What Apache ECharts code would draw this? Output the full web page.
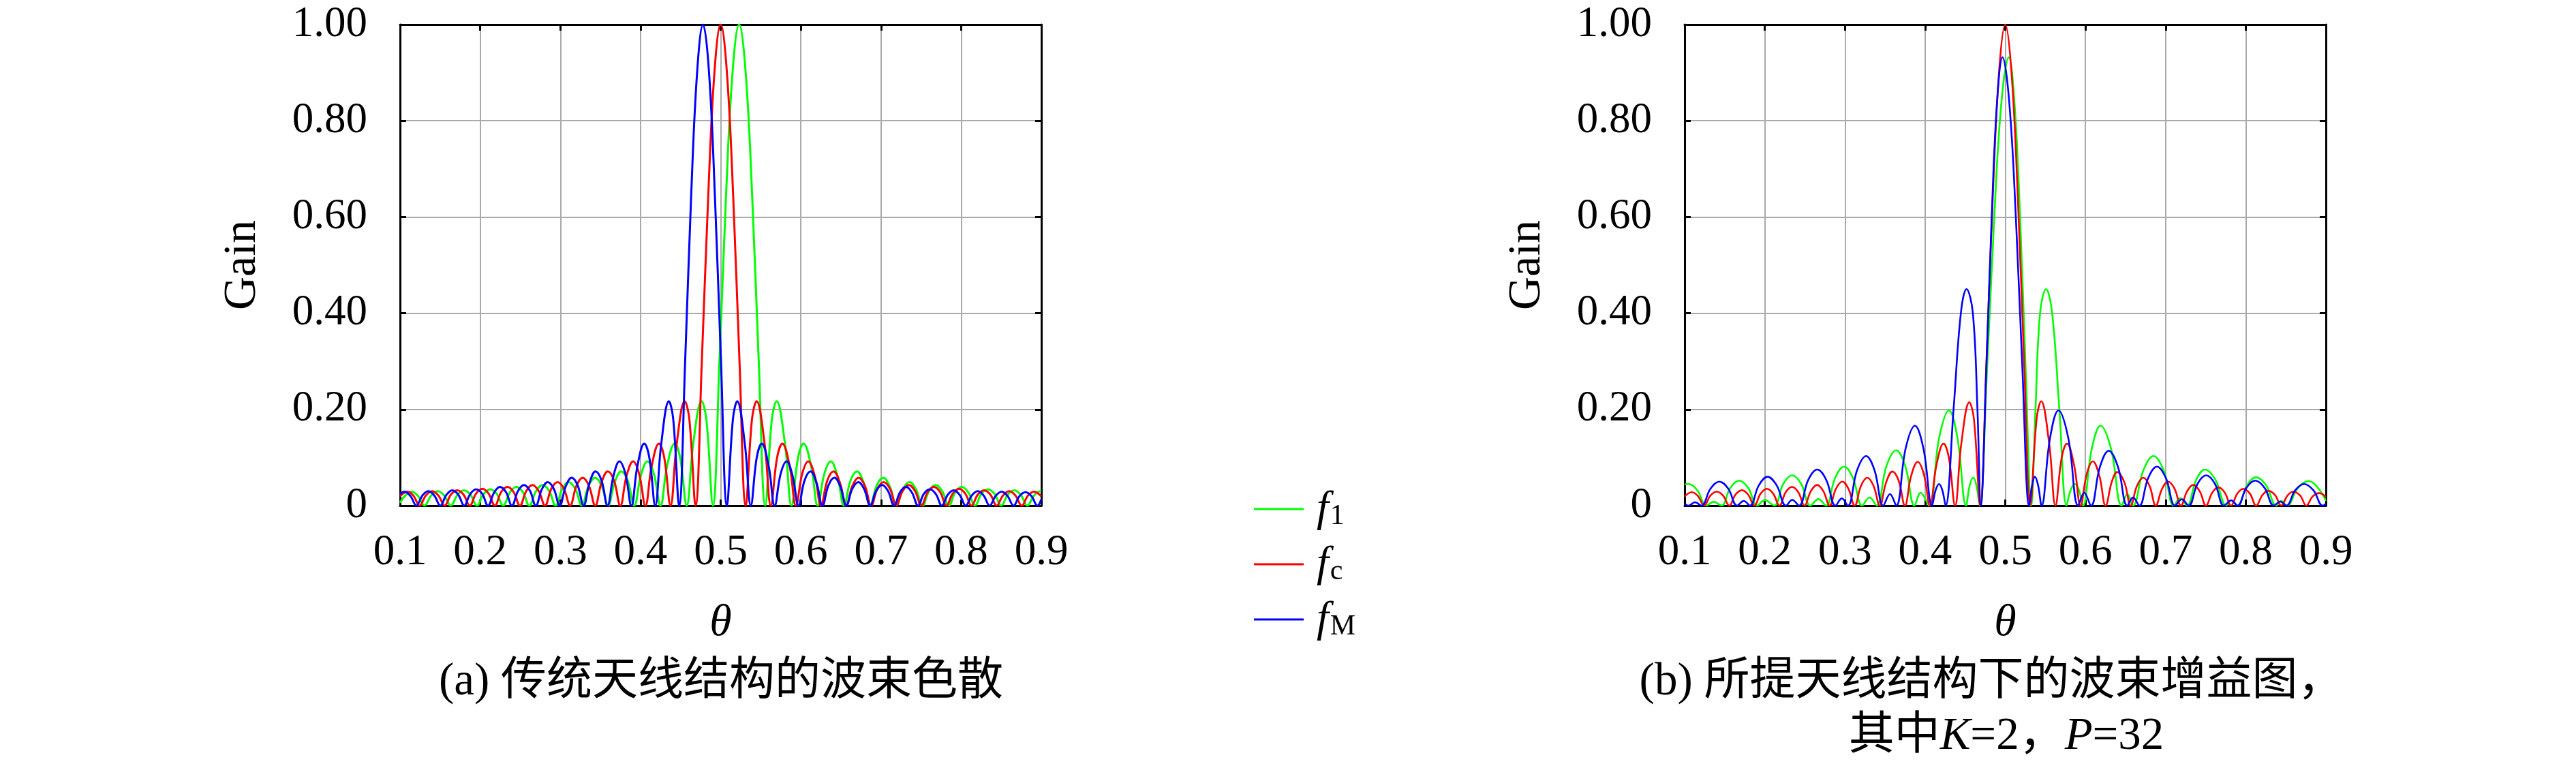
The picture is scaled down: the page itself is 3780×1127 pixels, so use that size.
<!DOCTYPE html>
<html><head><meta charset="utf-8">
<script src="https://cdn.jsdelivr.net/npm/echarts@6/dist/echarts.min.js"></script>
<style>html,body{margin:0;padding:0;background:#fff}#c{width:3780px;height:1127px}</style>
</head><body><div id="c"></div>
<script>
// ---------------- data ----------------
const seriesNames = ['f1', 'fc', 'fM'];
const seriesSubs = ['1', 'c', 'M'];
const seriesColors = ['#00ff00', '#ff0000', '#0000ff'];
const thetaTickLabels = ['0.1','0.2','0.3','0.4','0.5','0.6','0.7','0.8','0.9'];
const gainTickLabels = ['0','0.20','0.40','0.60','0.80','1.00'];
const axisNameX = 'θ';
const axisNameY = 'Gain';
const captionA = '(a) 传统天线结构的波束色散';
const captionB1 = '(b) 所提天线结构下的波束增益图，';
const captionB2 = '其中{i|K}=2，{i|P}=32';

// (a) conventional antenna: [theta, gain]
const a_f1 = [[0.1,0.006],[0.1061,0.020],[0.1143,0.029],[0.1224,0.020],[0.1306,0],[0.1388,0.021],[0.147,0.030],[0.1551,0.021],[0.1633,0],[0.1715,0.022],[0.1797,0.032],[0.1878,0.023],[0.196,0],[0.2042,0.024],[0.2124,0.034],[0.2205,0.025],[0.2287,0],[0.2369,0.027],[0.2451,0.039],[0.2532,0.028],[0.2614,0],[0.2696,0.030],[0.2778,0.043],[0.2859,0.031],[0.2941,0],[0.3023,0.034],[0.3105,0.049],[0.3186,0.035],[0.3268,0],[0.335,0.040],[0.3432,0.058],[0.3513,0.042],[0.3595,0],[0.3677,0.048],[0.3759,0.071],[0.384,0.052],[0.3922,0],[0.4004,0.062],[0.4086,0.092],[0.4167,0.066],[0.4249,0],[0.4331,0.082],[0.4426,0.129],[0.4494,0.10],[0.4576,0],[0.4658,0.129],[0.4762,0.217],[0.4821,0.18],[0.4903,0],[0.4985,0.30],[0.5066,0.64],[0.5148,0.90],[0.523,1.0],[0.5312,0.90],[0.5394,0.64],[0.5475,0.30],[0.5557,0],[0.5639,0.18],[0.5698,0.217],[0.5802,0.129],[0.5884,0],[0.5966,0.10],[0.6034,0.129],[0.6129,0.082],[0.6211,0],[0.6293,0.066],[0.6374,0.092],[0.6456,0.062],[0.6538,0],[0.662,0.052],[0.6701,0.071],[0.6783,0.048],[0.6865,0],[0.6947,0.042],[0.7028,0.058],[0.711,0.040],[0.7192,0],[0.7274,0.035],[0.7355,0.049],[0.7437,0.034],[0.7519,0],[0.7601,0.031],[0.7682,0.043],[0.7764,0.030],[0.7846,0],[0.7928,0.028],[0.8009,0.039],[0.8091,0.027],[0.8173,0],[0.8255,0.025],[0.8336,0.034],[0.8418,0.024],[0.85,0],[0.8582,0.023],[0.8663,0.032],[0.8745,0.022],[0.8827,0],[0.8909,0.021],[0.899,0.030],[0.9,0.030]];
const a_fc = [[0.1,0.019],[0.1088,0.029],[0.1166,0.021],[0.1244,0],[0.1322,0.021],[0.1401,0.030],[0.1479,0.021],[0.1557,0],[0.1635,0.023],[0.1714,0.032],[0.1792,0.023],[0.187,0],[0.1948,0.025],[0.2027,0.035],[0.2105,0.025],[0.2183,0],[0.2261,0.028],[0.234,0.039],[0.2418,0.028],[0.2496,0],[0.2574,0.030],[0.2653,0.043],[0.2731,0.030],[0.2809,0],[0.2887,0.035],[0.2966,0.049],[0.3044,0.035],[0.3122,0],[0.32,0.041],[0.3279,0.058],[0.3357,0.041],[0.3435,0],[0.3513,0.048],[0.3592,0.071],[0.367,0.052],[0.3748,0],[0.3826,0.062],[0.3908,0.092],[0.3983,0.066],[0.4061,0],[0.4139,0.082],[0.423,0.129],[0.4296,0.10],[0.4374,0],[0.4452,0.129],[0.4552,0.217],[0.4609,0.18],[0.4687,0],[0.4765,0.30],[0.4844,0.64],[0.4922,0.90],[0.5,1.0],[0.5078,0.90],[0.5157,0.64],[0.5235,0.30],[0.5313,0],[0.5391,0.18],[0.5448,0.217],[0.5548,0.129],[0.5626,0],[0.5704,0.10],[0.577,0.129],[0.5861,0.082],[0.5939,0],[0.6017,0.066],[0.6092,0.092],[0.6174,0.062],[0.6252,0],[0.633,0.052],[0.6408,0.071],[0.6487,0.048],[0.6565,0],[0.6643,0.041],[0.6721,0.058],[0.68,0.041],[0.6878,0],[0.6956,0.035],[0.7034,0.049],[0.7113,0.035],[0.7191,0],[0.7269,0.030],[0.7347,0.043],[0.7426,0.030],[0.7504,0],[0.7582,0.028],[0.766,0.039],[0.7739,0.028],[0.7817,0],[0.7895,0.025],[0.7973,0.035],[0.8052,0.025],[0.813,0],[0.8208,0.023],[0.8286,0.032],[0.8365,0.023],[0.8443,0],[0.8521,0.021],[0.8599,0.030],[0.8678,0.021],[0.8756,0],[0.8834,0.021],[0.8912,0.029],[0.9,0.019]];
const a_fM = [[0.1,0.024],[0.1055,0.029],[0.113,0.020],[0.1204,0],[0.1279,0.021],[0.1353,0.030],[0.1428,0.021],[0.1502,0],[0.1577,0.022],[0.1651,0.032],[0.1726,0.023],[0.18,0],[0.1875,0.024],[0.1949,0.034],[0.2024,0.025],[0.2098,0],[0.2173,0.027],[0.2247,0.039],[0.2322,0.028],[0.2396,0],[0.2471,0.030],[0.2545,0.043],[0.262,0.031],[0.2694,0],[0.2769,0.034],[0.2843,0.049],[0.2918,0.035],[0.2992,0],[0.3067,0.040],[0.3141,0.058],[0.3216,0.042],[0.329,0],[0.3365,0.048],[0.3439,0.071],[0.3514,0.052],[0.3588,0],[0.3663,0.062],[0.3737,0.092],[0.3812,0.066],[0.3886,0],[0.3961,0.082],[0.4047,0.129],[0.411,0.10],[0.4184,0],[0.4259,0.129],[0.4354,0.217],[0.4408,0.18],[0.4482,0],[0.4557,0.30],[0.4631,0.64],[0.4706,0.90],[0.478,1.0],[0.4855,0.90],[0.4929,0.64],[0.5004,0.30],[0.5078,0],[0.5153,0.18],[0.5206,0.217],[0.5301,0.129],[0.5376,0],[0.545,0.10],[0.5513,0.129],[0.5599,0.082],[0.5674,0],[0.5748,0.066],[0.5823,0.092],[0.5897,0.062],[0.5972,0],[0.6046,0.052],[0.6121,0.071],[0.6195,0.048],[0.627,0],[0.6344,0.042],[0.6419,0.058],[0.6493,0.040],[0.6568,0],[0.6642,0.035],[0.6717,0.049],[0.6791,0.034],[0.6866,0],[0.694,0.031],[0.7015,0.043],[0.7089,0.030],[0.7164,0],[0.7238,0.028],[0.7313,0.039],[0.7387,0.027],[0.7462,0],[0.7536,0.025],[0.7611,0.034],[0.7685,0.024],[0.776,0],[0.7834,0.023],[0.7909,0.032],[0.7983,0.022],[0.8058,0],[0.8132,0.021],[0.8207,0.030],[0.8281,0.021],[0.8356,0],[0.843,0.020],[0.8505,0.029],[0.8579,0.020],[0.8654,0],[0.8728,0.020],[0.8803,0.028],[0.8877,0.020],[0.8952,0],[0.9,0.013]];

// (b) proposed antenna, K=2, P=32: [theta, gain]
const b_f1 = [[0.1,0.044],[0.1045,0.045],[0.1158,0.032],[0.127,0],[0.1364,0.008],[0.146,0],[0.157,0.037],[0.1681,0.052],[0.1793,0.037],[0.1905,0],[0.2,0.0115],[0.2118,0],[0.223,0.045],[0.2343,0.063],[0.2455,0.045],[0.2568,0],[0.2669,0.0137],[0.2764,0],[0.2876,0.057],[0.2989,0.081],[0.3101,0.057],[0.3214,0],[0.3307,0.017],[0.3397,0],[0.3517,0.082],[0.3638,0.115],[0.3753,0.082],[0.3868,0],[0.3944,0.027],[0.405,0],[0.4174,0.14],[0.4298,0.198],[0.4404,0.14],[0.4511,0],[0.4556,0.042],[0.4602,0.0585],[0.464,0.042],[0.4681,0],[0.4772,0.28],[0.4863,0.6],[0.4953,0.84],[0.5044,0.932],[0.5114,0.84],[0.5185,0.6],[0.5255,0.28],[0.5325,0],[0.5377,0.2],[0.5434,0.4],[0.5509,0.45],[0.5585,0.4],[0.5675,0.2],[0.5765,0],[0.5815,0.032],[0.587,0.045],[0.592,0.032],[0.597,0],[0.6079,0.118],[0.6189,0.166],[0.632,0.118],[0.6452,0],[0.6523,0.024],[0.6594,0],[0.6722,0.073],[0.6849,0.103],[0.6977,0.073],[0.7104,0],[0.7184,0.016],[0.7269,0],[0.738,0.053],[0.7492,0.075],[0.7624,0.053],[0.7756,0],[0.7813,0.011],[0.7898,0],[0.8014,0.042],[0.813,0.059],[0.8255,0.042],[0.838,0],[0.8442,0.01],[0.8515,0],[0.8648,0.036],[0.8782,0.051],[0.8906,0.036],[0.9,0.01]];
const b_fc = [[0.1,0.019],[0.1088,0.028],[0.1166,0.020],[0.1244,0],[0.1322,0.021],[0.1401,0.029],[0.1479,0.021],[0.1557,0],[0.1635,0.023],[0.1714,0.032],[0.1792,0.023],[0.187,0],[0.1948,0.025],[0.2027,0.035],[0.2105,0.025],[0.2183,0],[0.2261,0.028],[0.234,0.039],[0.2418,0.028],[0.2496,0],[0.2574,0.030],[0.2653,0.043],[0.2731,0.030],[0.2809,0],[0.2887,0.035],[0.2966,0.050],[0.3044,0.035],[0.3122,0],[0.32,0.041],[0.3279,0.058],[0.3357,0.041],[0.3435,0],[0.3513,0.048],[0.3592,0.071],[0.367,0.052],[0.3748,0],[0.3826,0.062],[0.3908,0.091],[0.3983,0.066],[0.4061,0],[0.4139,0.082],[0.423,0.129],[0.4296,0.10],[0.4374,0],[0.4452,0.129],[0.4552,0.215],[0.4609,0.18],[0.4687,0],[0.4765,0.30],[0.4844,0.64],[0.4922,0.90],[0.5,1.0],[0.5078,0.90],[0.5157,0.64],[0.5235,0.30],[0.5313,0],[0.5391,0.18],[0.5448,0.217],[0.5548,0.129],[0.5626,0],[0.5704,0.10],[0.577,0.129],[0.5861,0.082],[0.5939,0],[0.6017,0.066],[0.6092,0.092],[0.6174,0.062],[0.6252,0],[0.633,0.050],[0.6396,0.070],[0.6487,0.048],[0.6565,0],[0.6643,0.041],[0.6722,0.058],[0.68,0.041],[0.6878,0],[0.6956,0.035],[0.7033,0.050],[0.7113,0.035],[0.7191,0],[0.7269,0.030],[0.7345,0.043],[0.7426,0.030],[0.7504,0],[0.7582,0.027],[0.7657,0.038],[0.7739,0.027],[0.7817,0],[0.7895,0.025],[0.7969,0.035],[0.8052,0.025],[0.813,0],[0.8208,0.022],[0.828,0.031],[0.8365,0.022],[0.8443,0],[0.8521,0.021],[0.8592,0.029],[0.8678,0.021],[0.8756,0],[0.8834,0.019],[0.8918,0.026],[0.9,0.018]];
const b_fM = [[0.1,0.004],[0.105,0],[0.113,0.007],[0.121,0],[0.1322,0.035],[0.1434,0.05],[0.1545,0.035],[0.1655,0],[0.1738,0.01],[0.1815,0],[0.1925,0.042],[0.2034,0.06],[0.2149,0.042],[0.2264,0],[0.2343,0.012],[0.2428,0],[0.2541,0.053],[0.2655,0.075],[0.2768,0.053],[0.2882,0],[0.2961,0.015],[0.3037,0],[0.315,0.073],[0.3264,0.103],[0.337,0.073],[0.3477,0],[0.3562,0.024],[0.364,0],[0.3756,0.118],[0.3873,0.166],[0.398,0.118],[0.4086,0],[0.4131,0.032],[0.4174,0.045],[0.4215,0.032],[0.4256,0],[0.4355,0.2],[0.4446,0.4],[0.4517,0.45],[0.4596,0.4],[0.4653,0.2],[0.4695,0],[0.4763,0.28],[0.4831,0.6],[0.4898,0.84],[0.4966,0.932],[0.5049,0.84],[0.5132,0.6],[0.5215,0.28],[0.5298,0],[0.5334,0.042],[0.537,0.06],[0.541,0.042],[0.5453,0],[0.5558,0.14],[0.5664,0.198],[0.5787,0.14],[0.591,0],[0.5985,0.027],[0.607,0],[0.618,0.08],[0.6291,0.114],[0.6407,0.08],[0.6523,0],[0.6594,0.017],[0.6673,0],[0.6782,0.057],[0.6892,0.081],[0.7005,0.057],[0.7118,0],[0.7203,0.013],[0.7288,0],[0.7397,0.045],[0.7507,0.063],[0.7617,0.045],[0.7728,0],[0.7818,0.011],[0.7898,0],[0.8008,0.037],[0.8119,0.052],[0.8235,0.037],[0.8351,0],[0.843,0.0085],[0.8507,0],[0.8617,0.032],[0.8728,0.045],[0.8844,0.032],[0.896,0],[0.9,0.004]];

// ---------------- chart ----------------
const SERIF = "'Liberation Serif', 'Noto Sans CJK SC', serif";
const TXT = {fontFamily: SERIF, color: '#000', fontWeight: 'normal'};

function xAxes(gi) {
  const common = {type: 'value', gridIndex: gi, min: 0.1, max: 0.9, interval: 0.1};
  return [
    Object.assign({}, common, {
      position: 'bottom',
      name: axisNameX, nameLocation: 'middle', nameGap: 140,
      nameTextStyle: Object.assign({}, TXT, {fontSize: 66, fontStyle: 'italic'}),
      axisLine: {show: true, onZero: false, lineStyle: {color: '#000', width: 3}},
      axisTick: {show: true, inside: true, length: 9, lineStyle: {color: '#000', width: 3}},
      axisLabel: Object.assign({}, TXT, {fontSize: 63, margin: 38,
        formatter: v => thetaTickLabels[Math.round((v - 0.1) * 10)] || ''}),
      splitLine: {show: true, lineStyle: {color: '#aaaaaa', width: 2}}
    }),
    Object.assign({}, common, {
      position: 'top',
      axisLine: {show: true, onZero: false, lineStyle: {color: '#000', width: 3}},
      axisTick: {show: true, inside: true, length: 9, lineStyle: {color: '#000', width: 3}},
      axisLabel: {show: false}, splitLine: {show: false}
    })
  ];
}
function yAxes(gi) {
  const common = {type: 'value', gridIndex: gi, min: 0, max: 1, interval: 0.2};
  return [
    Object.assign({}, common, {
      position: 'left',
      name: axisNameY, nameLocation: 'middle', nameGap: 197, nameRotate: 90,
      nameTextStyle: Object.assign({}, TXT, {fontSize: 68}),
      axisLine: {show: true, onZero: false, lineStyle: {color: '#000', width: 3}},
      axisTick: {show: true, inside: true, length: 9, lineStyle: {color: '#000', width: 3}},
      axisLabel: Object.assign({}, TXT, {fontSize: 63, margin: 48,
        formatter: v => gainTickLabels[Math.round(v / 0.2)] || ''}),
      splitLine: {show: true, lineStyle: {color: '#aaaaaa', width: 2}}
    }),
    Object.assign({}, common, {
      position: 'right',
      axisLine: {show: true, onZero: false, lineStyle: {color: '#000', width: 3}},
      axisTick: {show: true, inside: true, length: 9, lineStyle: {color: '#000', width: 3}},
      axisLabel: {show: false}, splitLine: {show: false}
    })
  ];
}
function line(name, data, color, axisIdx, width) {
  return {
    type: 'line', name, data, xAxisIndex: axisIdx, yAxisIndex: axisIdx,
    showSymbol: false, symbol: 'none', smooth: 0.4, clip: true,
    lineStyle: {color, width}, itemStyle: {color},
    animation: false, silent: true
  };
}
const dataA = [a_f1, a_fc, a_fM];
const dataB = [b_f1, b_fc, b_fM];
const series = [];
seriesNames.forEach((n, i) => series.push(line(n, dataA[i], seriesColors[i], 0, 3)));
seriesNames.forEach((n, i) => series.push(line(n, dataB[i], seriesColors[i], 2, 2.6)));

const legendTops = [715, 796, 877];
const legends = seriesNames.map((n, i) => ({
  data: [n], left: 1840, top: legendTops[i], orient: 'vertical', padding: 0,
  icon: 'rect', itemWidth: 73, itemHeight: 3, selectedMode: false,
  formatter: name => '{f|f}{s|' + seriesSubs[seriesNames.indexOf(name)] + '}',
  textStyle: {rich: {
    f: {fontFamily: SERIF, fontStyle: 'italic', fontSize: 64, lineHeight: 64, color: '#000', padding: [0, 2, 0, 14]},
    s: {fontFamily: SERIF, fontSize: 42, lineHeight: 64, color: '#000', verticalAlign: 'bottom', padding: [18, 0, 0, 0]}
  }}
}));

const chart = echarts.init(document.getElementById('c'), null, {renderer: 'canvas', width: 3780, height: 1127});
chart.setOption({
  backgroundColor: '#ffffff',
  animation: false,
  grid: [
    {left: 587, top: 36, width: 941, height: 706, outerBoundsMode: 'none', containLabel: false},
    {left: 2472, top: 36, width: 941, height: 706, outerBoundsMode: 'none', containLabel: false}
  ],
  xAxis: [].concat(xAxes(0), xAxes(1)),
  yAxis: [].concat(yAxes(0), yAxes(1)),
  legend: legends,
  title: [
    {text: captionA, left: 1058, top: 968, textAlign: 'center', padding: 0,
     textStyle: Object.assign({}, TXT, {fontSize: 67})},
    {text: captionB1, left: 2922, top: 968, textAlign: 'center', padding: 0,
     textStyle: Object.assign({}, TXT, {fontSize: 67})},
    {text: captionB2, left: 2944, top: 1048, textAlign: 'center', padding: 0,
     textStyle: Object.assign({}, TXT, {fontSize: 67,
       rich: {i: {fontFamily: SERIF, fontStyle: 'italic', fontSize: 67, color: '#000'}}})}
  ],
  series
});
</script></body></html>
